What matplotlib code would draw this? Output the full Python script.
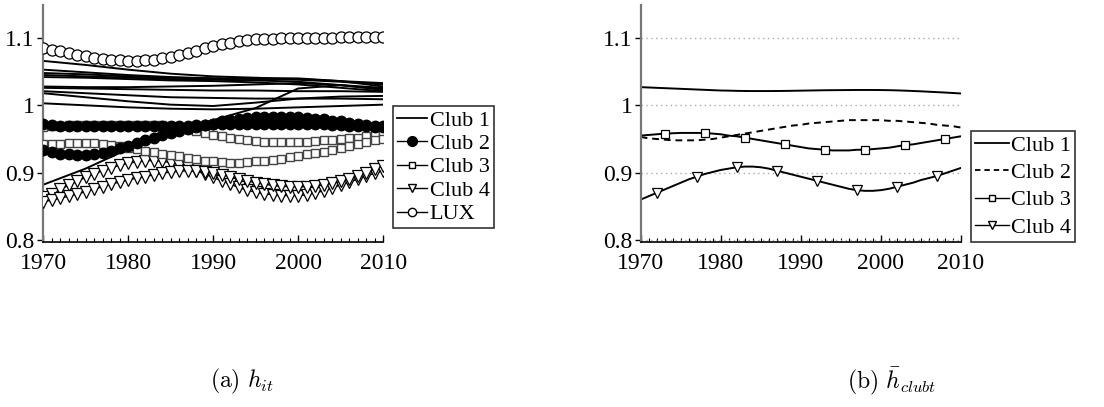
import matplotlib
matplotlib.use("Agg")
import matplotlib.pyplot as plt
from matplotlib.lines import Line2D
from matplotlib.ticker import MultipleLocator, FuncFormatter

plt.rcParams['font.family'] = 'serif'
plt.rcParams['font.serif'] = ['Liberation Serif', 'DejaVu Serif']
plt.rcParams['mathtext.fontset'] = 'cm'

# ---- data -------------------------------------------------------------
years = list(range(1970, 2011))
years5 = list(range(1970, 2011, 5))

# (a) Club 1 countries, read every 5 years
club1_countries = [
    [1.066, 1.060, 1.053, 1.047, 1.043, 1.041, 1.039, 1.036, 1.033],
    [1.053, 1.049, 1.045, 1.042, 1.040, 1.039, 1.038, 1.035, 1.031],
    [1.048, 1.046, 1.043, 1.041, 1.040, 1.040, 1.040, 1.036, 1.028],
    [1.045, 1.043, 1.041, 1.039, 1.038, 1.037, 1.035, 1.030, 1.024],
    [1.042, 1.041, 1.039, 1.037, 1.036, 1.034, 1.031, 1.026, 1.021],
    [1.028, 1.027, 1.027, 1.028, 1.029, 1.031, 1.033, 1.030, 1.026],
    [1.026, 1.025, 1.024, 1.023, 1.022, 1.022, 1.021, 1.021, 1.020],
    [1.021, 1.018, 1.015, 1.012, 1.011, 1.010, 1.010, 1.010, 1.009],
    [1.018, 1.012, 1.006, 1.001, 0.999, 1.004, 1.010, 1.013, 1.014],
    [1.003, 1.000, 0.997, 0.995, 0.994, 0.995, 0.997, 0.999, 1.001],
    [0.882, 0.906, 0.935, 0.958, 0.978, 0.996, 1.025, 1.030, 1.023],
]

# (a) Club 2 countries, yearly
club2_countries = [
    [0.972, 0.971, 0.970, 0.970, 0.969, 0.969, 0.969, 0.969, 0.969, 0.969,
     0.969, 0.969, 0.969, 0.969, 0.969, 0.969, 0.970, 0.970, 0.971, 0.971,
     0.972, 0.972, 0.972, 0.973, 0.973, 0.973, 0.973, 0.973, 0.973, 0.973,
     0.973, 0.972, 0.972, 0.972, 0.971, 0.971, 0.970, 0.970, 0.969, 0.968,
     0.968],
    [0.933, 0.930, 0.928, 0.927, 0.926, 0.926, 0.927, 0.929, 0.932, 0.936,
     0.940, 0.944, 0.948, 0.952, 0.956, 0.959, 0.962, 0.965, 0.968, 0.971,
     0.973, 0.976, 0.978, 0.980, 0.981, 0.982, 0.983, 0.983, 0.983, 0.983,
     0.982, 0.981, 0.980, 0.979, 0.977, 0.976, 0.974, 0.973, 0.971, 0.970,
     0.969],
]

# (a) Club 3 countries, yearly
club3_countries = [
    [0.968, 0.969, 0.970, 0.971, 0.971, 0.971, 0.971, 0.971, 0.971, 0.971,
     0.971, 0.971, 0.971, 0.971, 0.971, 0.970, 0.968, 0.965, 0.962, 0.959,
     0.956, 0.954, 0.952, 0.950, 0.948, 0.947, 0.946, 0.945, 0.945, 0.945,
     0.946, 0.946, 0.947, 0.948, 0.949, 0.950, 0.951, 0.952, 0.954, 0.956,
     0.958],
    [0.942, 0.943, 0.943, 0.944, 0.944, 0.944, 0.944, 0.943, 0.941, 0.939,
     0.937, 0.935, 0.932, 0.930, 0.928, 0.926, 0.924, 0.922, 0.920, 0.918,
     0.917, 0.916, 0.915, 0.915, 0.916, 0.917, 0.918, 0.919, 0.921, 0.923,
     0.925, 0.927, 0.929, 0.931, 0.934, 0.937, 0.939, 0.942, 0.945, 0.948,
     0.950],
]

# (a) Club 4 countries, yearly
club4_countries = [
    [0.864, 0.869, 0.875, 0.881, 0.887, 0.893, 0.898, 0.903, 0.907, 0.911,
     0.914, 0.916, 0.918, 0.918, 0.917, 0.915, 0.912, 0.908, 0.903, 0.898,
     0.893, 0.888, 0.883, 0.878, 0.874, 0.871, 0.869, 0.867, 0.866, 0.866,
     0.866, 0.867, 0.870, 0.873, 0.877, 0.882, 0.886, 0.890, 0.895, 0.899,
     0.903],
    [0.857, 0.859, 0.862, 0.865, 0.868, 0.872, 0.876, 0.879, 0.883, 0.886,
     0.889, 0.892, 0.894, 0.897, 0.899, 0.901, 0.902, 0.903, 0.902, 0.901,
     0.899, 0.897, 0.894, 0.891, 0.888, 0.885, 0.883, 0.881, 0.880, 0.879,
     0.879, 0.879, 0.880, 0.882, 0.884, 0.887, 0.891, 0.895, 0.900, 0.905,
     0.910],
]

lux = [1.085, 1.082, 1.080, 1.077, 1.075, 1.073, 1.071, 1.069, 1.068, 1.067,
       1.066, 1.066, 1.067, 1.068, 1.070, 1.072, 1.075, 1.078, 1.081, 1.085,
       1.088, 1.091, 1.093, 1.095, 1.097, 1.098, 1.099, 1.099, 1.100, 1.100,
       1.100, 1.100, 1.100, 1.100, 1.100, 1.101, 1.101, 1.101, 1.101, 1.101,
       1.101]

# (b) club averages, yearly
club1_avg = [1.0270, 1.0265, 1.0260, 1.0255, 1.0250, 1.0245, 1.0240, 1.0235,
             1.0230, 1.0225, 1.0220, 1.0218, 1.0215, 1.0213, 1.0212, 1.0212,
             1.0212, 1.0213, 1.0214, 1.0216, 1.0218, 1.0220, 1.0222, 1.0224,
             1.0225, 1.0226, 1.0227, 1.0228, 1.0228, 1.0228, 1.0227, 1.0225,
             1.0222, 1.0218, 1.0213, 1.0208, 1.0202, 1.0196, 1.0190, 1.0183,
             1.0176]
club2_avg = [0.953, 0.951, 0.950, 0.949, 0.948, 0.948, 0.948, 0.948, 0.949,
             0.950, 0.952, 0.954, 0.956, 0.958, 0.960, 0.962, 0.964, 0.966,
             0.968, 0.970, 0.971, 0.973, 0.974, 0.975, 0.976, 0.977, 0.978,
             0.978, 0.978, 0.978, 0.978, 0.977, 0.977, 0.976, 0.975, 0.974,
             0.973, 0.971, 0.970, 0.969, 0.967]
club3_avg = [0.955, 0.956, 0.957, 0.958, 0.9585, 0.959, 0.959, 0.959, 0.959,
             0.958, 0.957, 0.955, 0.954, 0.952, 0.950, 0.948, 0.946, 0.944,
             0.942, 0.940, 0.938, 0.936, 0.935, 0.934, 0.933, 0.933, 0.933,
             0.934, 0.934, 0.935, 0.936, 0.937, 0.939, 0.941, 0.942, 0.944,
             0.946, 0.948, 0.950, 0.952, 0.954]
club4_avg = [0.860, 0.865, 0.870, 0.875, 0.880, 0.885, 0.890, 0.894, 0.898,
             0.901, 0.904, 0.906, 0.908, 0.909, 0.909, 0.908, 0.906, 0.903,
             0.900, 0.897, 0.894, 0.891, 0.888, 0.885, 0.882, 0.879, 0.876,
             0.874, 0.873, 0.873, 0.874, 0.876, 0.879, 0.882, 0.885, 0.889,
             0.892, 0.895, 0.899, 0.903, 0.907]

y_ticks = [0.8, 0.9, 1.0, 1.1]
x_ticks = [1970, 1980, 1990, 2000, 2010]
legend_a = ["Club 1", "Club 2", "Club 3", "Club 4", "LUX"]
legend_b = ["Club 1", "Club 2", "Club 3", "Club 4"]

FS = 16


def style_axes(ax):
    ax.set_xlim(1970, 2010)
    ax.set_ylim(0.797, 1.149)
    ax.spines['top'].set_visible(False)
    ax.spines['right'].set_visible(False)
    ax.spines['left'].set_color('#777777')
    ax.spines['left'].set_linewidth(1.6)
    ax.spines['bottom'].set_linewidth(1.2)
    ax.set_xticks(x_ticks)
    ax.xaxis.set_minor_locator(MultipleLocator(1))
    ax.set_yticks(y_ticks)
    ax.yaxis.set_major_formatter(FuncFormatter(lambda v, p: f"{v:g}"))
    ax.tick_params(axis='x', which='major', direction='in', length=5, width=1,
                   labelsize=FS + 1, pad=8)
    ax.tick_params(axis='x', which='minor', direction='in', length=3, width=0.8)
    ax.tick_params(axis='y', which='major', direction='out', length=4, width=1,
                   labelsize=FS + 1, pad=2)


fig = plt.figure(figsize=(11.04, 4.07), dpi=100)
ax1 = fig.add_axes([0.039, 0.4054, 0.308, 0.5823])
ax2 = fig.add_axes([0.5803, 0.4054, 0.2901, 0.5823])

# ---- (a) ---------------------------------------------------------------
for vals in club1_countries:
    ax1.plot(years5, vals, color='black', lw=1.4, zorder=2)
for vals in club4_countries:
    ax1.plot(years, vals, color='black', lw=1.0, marker='v', ms=8.5, mfc='white',
             mec='black', mew=0.9, zorder=3)
for vals in club3_countries:
    ax1.plot(years, vals, color='black', lw=1.0, marker='s', ms=6.3, mfc='white',
             mec='#444444', mew=1.0, zorder=3)
for vals in club2_countries:
    ax1.plot(years, vals, color='black', lw=1.0, marker='o', ms=7.5, mfc='black',
             mec='black', zorder=4)
ax1.plot(years, lux, color='black', lw=1.0, marker='o', ms=8, mfc='white',
         mec='black', mew=0.9, zorder=3)
style_axes(ax1)

handles_a = [
    Line2D([], [], color='black', lw=1.3),
    Line2D([], [], color='black', lw=1.0, marker='o', ms=7, mfc='black'),
    Line2D([], [], color='black', lw=1.0, marker='s', ms=5, mfc='white'),
    Line2D([], [], color='black', lw=1.0, marker='v', ms=6, mfc='white'),
    Line2D([], [], color='black', lw=1.0, marker='o', ms=6, mfc='white'),
]
leg_a = fig.legend(handles_a, legend_a, loc='upper left',
                   bbox_to_anchor=(393 / 1104, 1 - 106 / 407), fontsize=FS,
                   frameon=True, fancybox=False, edgecolor='black',
                   handlelength=1.35, handletextpad=0.12, labelspacing=0.13,
                   borderpad=0.18, borderaxespad=0)
leg_a.get_frame().set_linewidth(1.2)

# ---- (b) ---------------------------------------------------------------
ax2.grid(axis='y', color='#aaaaaa', linestyle=(0, (1, 2.5)), lw=1.0)
ax2.plot(years, club1_avg, color='black', lw=1.4)
ax2.plot(years, club2_avg, color='black', lw=1.4, ls=(0, (3.5, 2.5)))
ax2.plot(years, club3_avg, color='black', lw=1.4, marker='s', ms=5.5, mfc='white',
         mec='black', mew=0.9, markevery=slice(3, None, 5))
ax2.plot(years, club4_avg, color='black', lw=1.4, marker='v', ms=7, mfc='white',
         mec='black', mew=0.9, markevery=slice(2, None, 5))
style_axes(ax2)

handles_b = [
    Line2D([], [], color='black', lw=1.3),
    Line2D([], [], color='black', lw=1.3, ls=(0, (3, 2.2))),
    Line2D([], [], color='black', lw=1.0, marker='s', ms=4.5, mfc='white'),
    Line2D([], [], color='black', lw=1.0, marker='v', ms=6, mfc='white'),
]
leg_b = fig.legend(handles_b, legend_b, loc='upper left',
                   bbox_to_anchor=(971 / 1104, 1 - 131 / 407), fontsize=FS,
                   frameon=True, fancybox=False, edgecolor='black',
                   handlelength=1.5, handletextpad=0.1, labelspacing=0.3,
                   borderpad=0.2, borderaxespad=0)
leg_b.get_frame().set_linewidth(1.2)

# ---- captions ------------------------------------------------------------
fig.text(242 / 1104, 1 - 381 / 407, r"$\mathrm{(a)}\ h_{it}$", fontsize=17,
         ha='center', va='center')
fig.text(892 / 1104, 1 - 381 / 407, r"$\mathrm{(b)}\ \bar{h}_{clubt}$", fontsize=17,
         ha='center', va='center')

fig.savefig("out.png", dpi=100)
